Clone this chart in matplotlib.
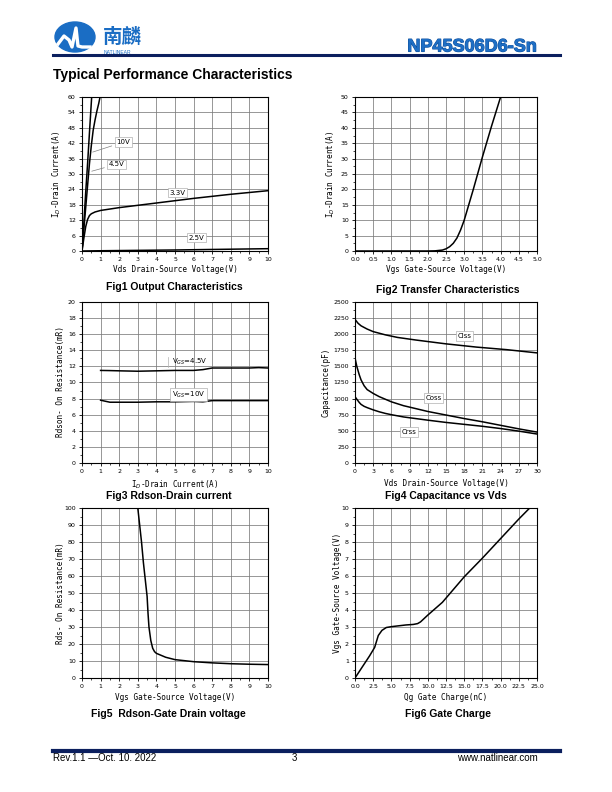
import numpy as np
import matplotlib
matplotlib.use('Agg')
import matplotlib.pyplot as plt
import matplotlib.patheffects as pe
from matplotlib.patches import Ellipse

W, H = 612, 792

# ---- data ----
# Fig1 output characteristics
vds_10 = [0, 0.1, 0.2, 0.3, 0.4, 0.52]
id_10 = [0, 11, 23, 34, 46, 60]
vds_45 = [0, 0.2, 0.4, 0.5, 0.6, 0.7, 0.8, 0.9, 0.97]
id_45 = [0, 17, 34, 41, 47, 51, 54.5, 57.5, 60]
vds_33 = [0, 0.1, 0.2, 0.3, 0.4, 0.5, 0.7, 1, 2, 3, 4, 5, 6, 7, 8, 9, 10]
id_33 = [0, 5, 9.5, 12.3, 13.8, 14.5, 15.2, 15.8, 16.9, 17.8, 18.7, 19.6, 20.5, 21.3, 22.1, 22.8, 23.5]
vds_25 = [0, 1, 3, 5, 7, 10]
id_25 = [0, 0.1, 0.25, 0.4, 0.6, 0.9]

# Fig2 transfer characteristics
vgs_tr = [0, 1.0, 2.0, 2.2, 2.4, 2.5, 2.6, 2.7, 2.8, 2.9, 3.0, 3.25, 3.5, 3.75, 4.0]
id_tr = [0, 0, 0, 0.05, 0.3, 0.7, 1.4, 2.5, 4.2, 6.8, 10, 20, 30.5, 40.5, 50]

# Fig3 Rdson vs drain current
id_r = [1, 1.5, 2, 3, 4, 5, 6, 6.5, 7, 8, 9, 9.5, 10]
r_45 = [11.5, 11.48, 11.45, 11.4, 11.45, 11.5, 11.5, 11.6, 11.8, 11.8, 11.8, 11.85, 11.8]
r_10 = [7.8, 7.55, 7.55, 7.55, 7.6, 7.6, 7.65, 7.6, 7.75, 7.75, 7.75, 7.75, 7.75]

# Fig4 capacitance vs Vds
vds_c = [0, 0.5, 1, 2, 3, 5, 7, 10, 15, 20, 25, 30]
ciss = [2230, 2170, 2130, 2080, 2040, 1990, 1950, 1910, 1850, 1800, 1760, 1710]
vds_o = [0, 0.3, 0.7, 1, 1.5, 2, 3, 4, 5, 6, 8, 10, 12, 15, 18, 21, 24, 27, 30]
coss = [1630, 1500, 1370, 1290, 1200, 1140, 1080, 1030, 990, 950, 890, 845, 800, 745, 690, 640, 585, 530, 480]
crss = [1030, 990, 940, 910, 880, 860, 825, 795, 770, 750, 715, 690, 665, 630, 600, 570, 535, 495, 450]

# Fig5 Rdson vs Vgs
vgs_r = [3.0, 3.1, 3.2, 3.3, 3.4, 3.5, 3.55, 3.6, 3.7, 3.8, 3.9, 4.0, 4.5, 5, 6, 7, 8, 9, 10]
rds_v = [100, 90, 80, 68, 58, 48, 38, 30, 22, 17.5, 15.5, 14.5, 12.2, 10.8, 9.6, 8.9, 8.4, 8.1, 7.9]

# Fig6 gate charge
qg = [0, 1, 2, 2.7, 3.2, 3.7, 4.3, 5, 6, 7, 8, 8.6, 9, 9.5, 10, 12, 15, 17.5, 20, 22.5, 24]
vgs_q = [0, 0.65, 1.3, 1.8, 2.5, 2.8, 2.97, 3.02, 3.07, 3.12, 3.15, 3.2, 3.3, 3.5, 3.7, 4.45, 5.95, 7.05, 8.2, 9.35, 10]

NAVY = '#0b1f5e'
BLUE = '#1f6fc5'
MONO = 'DejaVu Sans Mono'

fig = plt.figure(figsize=(W / 100, H / 100), dpi=100)


def fx(x):
    return x / W


def fy(y):
    return 1 - y / H


def make_axes(L, R, T, B, xlim, ylim, xstep, ystep, xfmt='{:g}', yfmt='{:g}'):
    ax = fig.add_axes([fx(L), fy(B), (R - L) / W, (B - T) / H])
    ax.set_xlim(*xlim)
    ax.set_ylim(*ylim)
    xt = np.arange(xlim[0], xlim[1] + xstep / 2, xstep)
    yt = np.arange(ylim[0], ylim[1] + ystep / 2, ystep)
    ax.set_xticks(xt)
    ax.set_yticks(yt)
    ax.set_xticklabels([xfmt.format(v) for v in xt])
    ax.set_yticklabels([yfmt.format(v) for v in yt])
    ax.set_xticks(np.arange(xlim[0], xlim[1], xstep / 2), minor=True)
    ax.set_yticks(np.arange(ylim[0], ylim[1], ystep / 2), minor=True)
    ax.tick_params(which='major', length=2.5, width=0.6, labelsize=4.5, pad=2)
    ax.tick_params(which='minor', length=1.5, width=0.5)
    ax.grid(True, which='major', color='#7a7a7a', linewidth=0.55)
    for s in ax.spines.values():
        s.set_linewidth(0.8)
    return ax


def labels(xl, xl_y, yl, yl_x, cx, cy, title, title_y, title_x):
    fig.text(fx(cx), fy(xl_y), xl, family=MONO, fontsize=5.5, ha='center', va='center')
    fig.text(fx(yl_x), fy(cy), yl, family=MONO, fontsize=5.5, ha='center', va='center',
             rotation=90)
    fig.text(fx(title_x), fy(title_y), title, family='Liberation Sans', fontweight='bold',
             fontsize=7.5, ha='center', va='center')


box = dict(boxstyle='square,pad=0.25', facecolor='white', edgecolor='#b0b0b0', linewidth=0.5)
lw = 1.1

# Fig1
ax1 = make_axes(82, 268, 97, 251, (0, 10), (0, 60), 1, 6)
ax1.plot(vds_10, id_10, color='black', lw=lw)
ax1.plot(vds_45, id_45, color='black', lw=lw)
ax1.plot(vds_33, id_33, color='black', lw=lw)
ax1.plot(vds_25, id_25, color='black', lw=lw)
ax1.annotate('10V', xy=(0.43, 38.2), xytext=(1.85, 42.4), fontsize=5, va='center', bbox=box,
             arrowprops=dict(arrowstyle='-', color='#808080', lw=0.5))
ax1.annotate('4.5V', xy=(0.38, 30.8), xytext=(1.45, 33.8), fontsize=5, va='center', bbox=box,
             arrowprops=dict(arrowstyle='-', color='#808080', lw=0.5))
ax1.text(4.7, 22.7, '3.3V', fontsize=5, va='center', bbox=box)
ax1.text(5.75, 5.2, '2.5V', fontsize=5, va='center', bbox=box)
labels('Vds Drain-Source Voltage(V)', 270, r'I$_D$-Drain Current(A)', 57, 175, 174,
       'Fig1 Output Characteristics', 287, 174)

# Fig2
ax2 = make_axes(355, 537, 97, 251, (0, 5), (0, 50), 0.5, 5, xfmt='{:.1f}')
ax2.plot(vgs_tr, id_tr, color='black', lw=lw)
labels('Vgs Gate-Source Voltage(V)', 270, r'I$_D$-Drain Current(A)', 331, 446, 174,
       'Fig2 Transfer Characteristics', 290, 448)

# Fig3
ax3 = make_axes(82, 268, 302, 463, (0, 10), (0, 20), 1, 2)
ax3.plot(id_r, r_45, color='black', lw=lw)
ax3.plot(id_r, r_10, color='black', lw=lw)
ax3.plot([4.6, 4.6], [11.95, 13.2], color='#b0b0b0', lw=0.5)
ax3.text(4.85, 12.6, r'V$_{GS}$=4.5V', fontsize=5, va='center')
ax3.text(4.85, 8.5, r'V$_{GS}$=10V', fontsize=5, va='center', bbox=box)
labels(r'I$_D$-Drain Current(A)', 485, 'Rdson- On Resistance(mR)', 60, 175, 382,
       'Fig3 Rdson-Drain current', 496, 169)

# Fig4
ax4 = make_axes(355, 537, 302, 463, (0, 30), (0, 2500), 3, 250)
ax4.plot(vds_c, ciss, color='black', lw=lw)
ax4.plot(vds_o, coss, color='black', lw=lw)
ax4.plot(vds_o, crss, color='black', lw=lw)
ax4.text(16.9, 1970, 'Ciss', fontsize=5, va='center', bbox=box)
ax4.text(11.6, 1010, 'Coss', fontsize=5, va='center', bbox=box)
ax4.text(7.7, 480, 'Crss', fontsize=5, va='center', bbox=box)
labels('Vds Drain-Source Voltage(V)', 483, 'Capacitance(pF)', 326, 446, 382,
       'Fig4 Capacitance vs Vds', 496, 446)

# Fig5
ax5 = make_axes(82, 268, 508, 678, (0, 10), (0, 100), 1, 10)
ax5.plot(vgs_r, rds_v, color='black', lw=lw)
labels('Vgs Gate-Source Voltage(V)', 697, 'Rds- On Resistance(mR)', 61, 175, 593,
       'Fig5  Rdson-Gate Drain voltage', 714, 168)

# Fig6
ax6 = make_axes(355, 537, 508, 678, (0, 25), (0, 10), 2.5, 1, xfmt='{:.1f}')
ax6.plot(qg, vgs_q, color='black', lw=lw)
labels('Qg Gate Charge(nC)', 697, 'Vgs Gate-Source Voltage(V)', 338, 446, 593,
       'Fig6 Gate Charge', 714, 448)

# ---- page header ----
fig.add_artist(plt.Line2D([fx(53), fx(560)], [fy(55), fy(55)], color=NAVY, lw=2.2))
fig.add_artist(Ellipse((fx(75), fy(37)), 40 / W, 30 / H, color='#1a6dc4'))
wx = [58, 64, 69, 72, 76, 78, 82, 90]
wy = [44, 36, 40, 47, 28, 46, 47, 47]
fig.add_artist(plt.Line2D([fx(v) for v in wx], [fy(v) for v in wy], color='white', lw=2.4))
fig.text(fx(103), fy(37), '南麟', family=['Noto Sans CJK SC', 'DejaVu Sans'], fontsize=14,
         fontweight='bold', color='#1a6dc4', ha='left', va='center')
fig.text(fx(104), fy(52), 'NATLINEAR', family='Liberation Sans', fontsize=3.6,
         color='#1a6dc4', ha='left', va='center')
fig.text(fx(537), fy(47), 'NP45S06D6-Sn', family='Liberation Sans', fontweight='bold',
         fontsize=13, color=BLUE, ha='right', va='center',
         path_effects=[pe.withStroke(linewidth=0.8, foreground='#0d4f9e')])
fig.text(fx(53), fy(75), 'Typical Performance Characteristics', family='Liberation Sans',
         fontweight='bold', fontsize=10, ha='left', va='center')

# ---- page footer ----
fig.add_artist(plt.Line2D([fx(53), fx(560)], [fy(751), fy(751)], color=NAVY, lw=3))
fig.text(fx(53), fy(758), 'Rev.1.1 \u2014Oct. 10. 2022', family='Liberation Sans',
         fontsize=7, ha='left', va='center')
fig.text(fx(294), fy(758), '3', family='Liberation Sans', fontsize=7, ha='center', va='center')
fig.text(fx(538), fy(758), 'www.natlinear.com', family='Liberation Sans', fontsize=7,
         ha='right', va='center')

fig.savefig('out.png', dpi=100)
